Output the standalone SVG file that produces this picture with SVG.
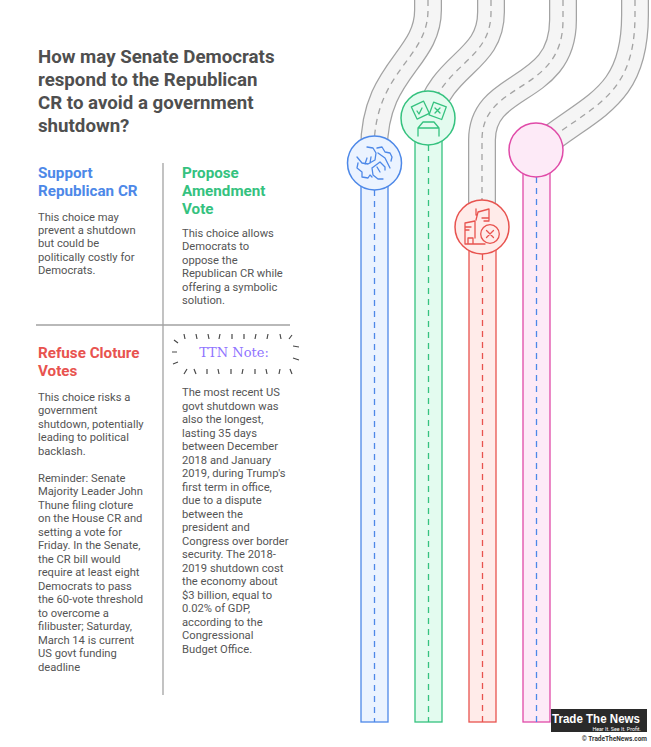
<svg xmlns="http://www.w3.org/2000/svg" width="651" height="747" viewBox="0 0 651 747">
<style>
text{font-family:Roboto,"Liberation Sans",sans-serif}
.title{font-size:18.700px;font-weight:700;fill:#4f4f4f}
.h{font-size:15.200px;font-weight:700}
.b{font-size:11.200px;fill:#555}
.edge{fill:none;stroke:#a3a3a3;stroke-width:28}
.fill{fill:none;stroke:#f5f5f5;stroke-width:25.5}
.dash{fill:none;stroke:#a3a3a3;stroke-width:1.3;stroke-dasharray:6 5}
.lane{stroke-width:1.3;stroke-dasharray:6 5;fill:none}
.div{stroke:#a3a3a3;stroke-width:1.3;fill:none}
.ic{fill:none;stroke-width:1.3;stroke-linejoin:round;stroke-linecap:round}
.ray{stroke:#4a4a4a;stroke-width:1.2;fill:none}
</style>
<rect width="651" height="747" fill="#fff"/>
<g id="connectors">
<path class="edge" d="M428,0V10C428,60 374,70 374,150"/><path class="fill" d="M428,0V10C428,60 374,70 374,150"/><path class="dash" d="M428,0V10C428,60 374,70 374,150"/>
<path class="edge" d="M491,0V12C491,62 443,62 428,118"/><path class="fill" d="M491,0V12C491,62 443,62 428,118"/><path class="dash" d="M491,0V12C491,62 443,62 428,118"/>
<path class="edge" d="M563,0V20C563,95 482,80 482,140V227"/><path class="fill" d="M563,0V20C563,95 482,80 482,140V227"/><path class="dash" d="M563,0V20C563,95 482,80 482,140V227"/>
<path class="edge" d="M635,0V15C635,100 590,105 536,150"/><path class="fill" d="M635,0V15C635,100 590,105 536,150"/><path class="dash" d="M635,0V15C635,100 590,105 536,150"/>
<g id="lane-blue"><rect x="361" y="163" width="27" height="559" fill="#ebf3ff" stroke="#4d88e8" stroke-width="1.3"/><path class="lane" d="M374.500,190V722" stroke="#4d88e8"/></g>
<g id="lane-green"><rect x="415" y="118" width="27" height="604" fill="#e3fbef" stroke="#35c27f" stroke-width="1.3"/><path class="lane" d="M428.500,145V722" stroke="#35c27f"/></g>
<g id="lane-red"><rect x="469" y="227" width="27" height="495" fill="#ffebe9" stroke="#e8534f" stroke-width="1.3"/><path class="lane" d="M482.500,254V722" stroke="#e8534f"/></g>
<g id="lane-pink"><rect x="523" y="150" width="27" height="572" fill="#fdeaf7" stroke="#e04aa8" stroke-width="1.3"/><path class="lane" d="M536.500,177V722" stroke="#4d88e8"/></g>
</g>
<g id="node-blue"><circle cx="374.500" cy="163" r="27" fill="#ebf3ff" stroke="#4d88e8" stroke-width="1.5"/>
<g class="ic" stroke="#4d88e8"><path d="M357,157l5,6 6,1 7,-4 1,-7 -3,-5 -6,-1M365,164l2,-6M370,163l1,-6"/><path d="M377,148l5,-1 3,5 5,1 2,4 -1,4"/><path d="M378,153l7,5 5,10"/><path d="M372,168l8,-6 5,5 0,3M372,168l1,7 5,4 5,0M377,167l3,5"/><path d="M358,163l-1,5 5,4 0,5 6,1 2,-3 2,2"/></g></g>
<g id="node-green"><circle cx="428" cy="118" r="27" fill="#e3fbef" stroke="#35c27f" stroke-width="1.5"/>
<g class="ic" stroke="#35c27f"><rect x="413.500" y="103.500" width="13.500" height="13.500" transform="rotate(-25 420 110)"/><rect x="431" y="104" width="13.500" height="13.500" transform="rotate(20 437.500 110.500)"/><path d="M417,111l2,3 3,-6M435,108l5,5M440,108l-5,5"/><path d="M418,136V128l5,-6h11l5,6v8M418,128h21"/></g></g>
<g id="node-red"><circle cx="482" cy="227" r="27" fill="#ffebe9" stroke="#e8534f" stroke-width="1.5"/>
<g class="ic" stroke="#e8534f"><path d="M465,244V223l10,-2v17M465,244h20M468,244v-6h5v6M465,227h6M465,230h4"/><path d="M476,220l2,-8 11,-3v11M476,209v6M482,218h7M484,221h5"/><circle cx="490" cy="234" r="9.300"/><path d="M486.500,230.500l7,7M493.500,230.500l-7,7"/></g></g>
<g id="node-pink"><circle cx="536" cy="150" r="27" fill="#fdeaf7" stroke="#e04aa8" stroke-width="1.5"/></g>
<g id="dividers"><path class="div" d="M163,163V695M36,325H290"/></g>
<g id="heading"><text class="title"><tspan x="38" y="63">How may Senate Democrats</tspan><tspan x="38" y="86">respond to the Republican</tspan><tspan x="38" y="109">CR to avoid a government</tspan><tspan x="38" y="132">shutdown?</tspan></text></g>
<g id="support"><text class="h" fill="#4d88e8"><tspan x="38" y="178">Support</tspan><tspan x="38" y="196">Republican CR</tspan></text>
<text class="b"><tspan x="38" y="221">This choice may</tspan><tspan x="38" y="234">prevent a shutdown</tspan><tspan x="38" y="247">but could be</tspan><tspan x="38" y="261">politically costly for</tspan><tspan x="38" y="274">Democrats.</tspan></text></g>
<g id="propose"><text class="h" fill="#35c27f"><tspan x="182" y="178">Propose</tspan><tspan x="182" y="196">Amendment</tspan><tspan x="182" y="214">Vote</tspan></text>
<text class="b"><tspan x="182" y="237">This choice allows</tspan><tspan x="182" y="250">Democrats to</tspan><tspan x="182" y="264">oppose the</tspan><tspan x="182" y="277">Republican CR while</tspan><tspan x="182" y="291">offering a symbolic</tspan><tspan x="182" y="304">solution.</tspan></text></g>
<g id="refuse"><text class="h" fill="#e8534f"><tspan x="38" y="358">Refuse Cloture</tspan><tspan x="38" y="376">Votes</tspan></text>
<text class="b"><tspan x="38" y="401">This choice risks a</tspan><tspan x="38" y="414">government</tspan><tspan x="38" y="428">shutdown, potentially</tspan><tspan x="38" y="441">leading to political</tspan><tspan x="38" y="455">backlash.</tspan><tspan x="38" y="482">Reminder: Senate</tspan><tspan x="38" y="495">Majority Leader John</tspan><tspan x="38" y="509">Thune filing cloture</tspan><tspan x="38" y="522">on the House CR and</tspan><tspan x="38" y="536">setting a vote for</tspan><tspan x="38" y="549">Friday. In the Senate,</tspan><tspan x="38" y="563">the CR bill would</tspan><tspan x="38" y="576">require at least eight</tspan><tspan x="38" y="590">Democrats to pass</tspan><tspan x="38" y="603">the 60-vote threshold</tspan><tspan x="38" y="617">to overcome a</tspan><tspan x="38" y="630">filibuster; Saturday,</tspan><tspan x="38" y="644">March 14 is current</tspan><tspan x="38" y="657">US govt funding</tspan><tspan x="38" y="671">deadline</tspan></text></g>
<g id="note"><text x="234" y="357" text-anchor="middle" style="font-family:'DejaVu Serif',serif;font-size:13px;fill:#8f73ff">TTN Note:</text>
<path class="ray" d="M184,334l1,5M196,334l1,5M208,334l1,5M220,334l-1,5M232,334v5M244,334v5M256,334l-1,5M268,334l-1,5M280,334l1,5M292,335l-3,4M174,340l4,3M172,352h5M173,364l5,-2M187,369l-3,5M194,369l2,5M207,369v5M218,369l1,5M231,369v5M243,369l-1,5M255,369v5M266,369l1,5M280,369l-1,5M290,369l2,5M293,346l6,1M293,358l6,2"/>
<text class="b"><tspan x="182" y="396">The most recent US</tspan><tspan x="182" y="410">govt shutdown was</tspan><tspan x="182" y="423">also the longest,</tspan><tspan x="182" y="437">lasting 35 days</tspan><tspan x="182" y="450">between December</tspan><tspan x="182" y="464">2018 and January</tspan><tspan x="182" y="477">2019, during Trump's</tspan><tspan x="182" y="491">first term in office,</tspan><tspan x="182" y="504">due to a dispute</tspan><tspan x="182" y="518">between the</tspan><tspan x="182" y="531">president and</tspan><tspan x="182" y="545">Congress over border</tspan><tspan x="182" y="558">security. The 2018-</tspan><tspan x="182" y="572">2019 shutdown cost</tspan><tspan x="182" y="585">the economy about</tspan><tspan x="182" y="599">$3 billion, equal to</tspan><tspan x="182" y="612">0.02% of GDP,</tspan><tspan x="182" y="626">according to the</tspan><tspan x="182" y="639">Congressional</tspan><tspan x="182" y="653">Budget Office.</tspan></text></g>
<g id="logo"><rect x="551" y="709" width="96" height="23" fill="#2a2a2a"/>
<text x="552" y="723" style="font-size:13px;font-weight:700;fill:#fff;font-family:'Liberation Sans',sans-serif" textLength="88" lengthAdjust="spacingAndGlyphs">Trade The News</text>
<text x="641" y="730.500" text-anchor="end" style="font-size:5.300px;fill:#fff">Hear It. See It. Profit.</text>
<text x="647" y="741" text-anchor="end" style="font-size:6.500px;font-weight:700;fill:#333">© TradeTheNews.com</text></g>
</svg>
